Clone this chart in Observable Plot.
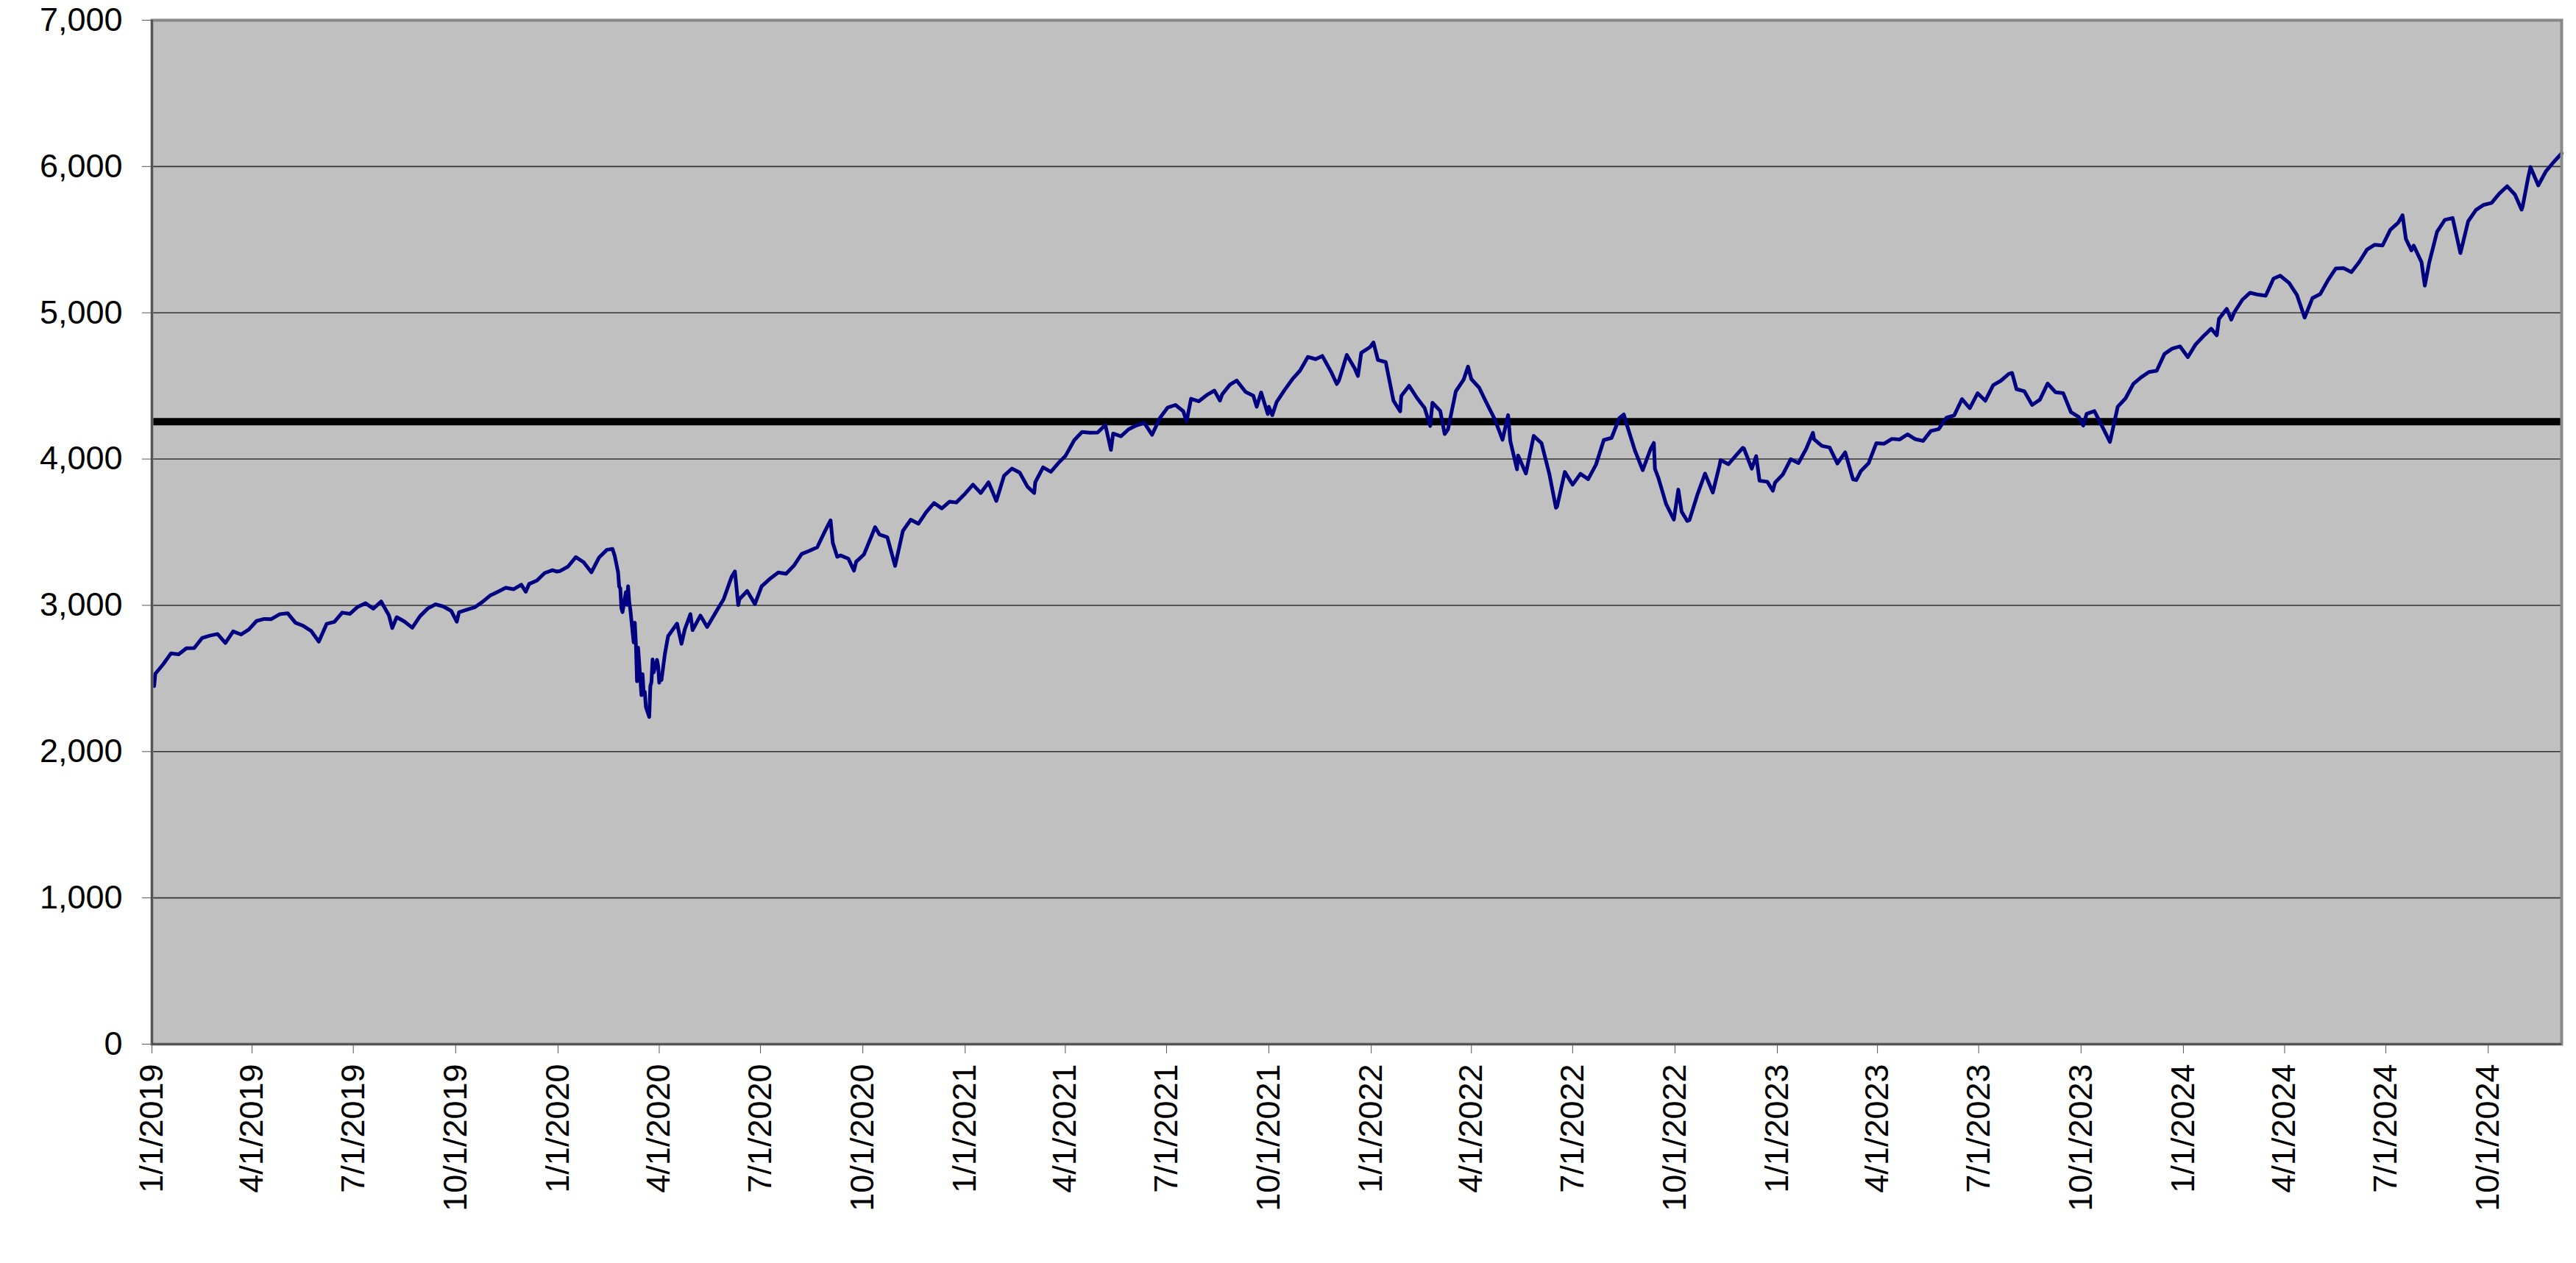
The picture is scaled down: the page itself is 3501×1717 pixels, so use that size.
<!DOCTYPE html>
<html>
<head>
<meta charset="utf-8">
<script src="https://cdn.jsdelivr.net/npm/d3@7"></script>
<script src="https://cdn.jsdelivr.net/npm/@observablehq/plot@0.6"></script>
<style>
  html, body { margin: 0; padding: 0; background: #fff; }
  #chart svg { display: block; }
</style>
</head>
<body>
<div id="chart"></div>
<script>
// S&P 500 closes (date, value)
const y2019 = [
  ["2019-01-02",2510],["2019-01-03",2448],["2019-01-04",2532],["2019-01-11",2596],["2019-01-18",2671],
  ["2019-01-25",2665],["2019-02-01",2707],["2019-02-08",2708],["2019-02-15",2776],["2019-02-22",2793],
  ["2019-03-01",2804],["2019-03-08",2743],["2019-03-15",2822],["2019-03-22",2801],["2019-03-29",2834],
  ["2019-04-05",2893],["2019-04-12",2907],["2019-04-18",2905],["2019-04-26",2940],["2019-05-03",2946],
  ["2019-05-10",2881],["2019-05-17",2860],["2019-05-24",2826],["2019-05-31",2752],["2019-06-07",2873],
  ["2019-06-14",2887],["2019-06-21",2950],["2019-06-28",2942],["2019-07-05",2990],["2019-07-12",3014],
  ["2019-07-19",2977],["2019-07-26",3026],["2019-08-02",2932],["2019-08-05",2845],["2019-08-09",2919],
  ["2019-08-16",2889],["2019-08-23",2847],["2019-08-30",2926],["2019-09-06",2979],["2019-09-13",3007],
  ["2019-09-20",2992],["2019-09-27",2962],["2019-10-02",2888],["2019-10-04",2952],["2019-10-11",2970],
  ["2019-10-18",2986],["2019-10-25",3023],["2019-11-01",3067],["2019-11-08",3093],["2019-11-15",3120],
  ["2019-11-22",3110],["2019-11-29",3141],["2019-12-03",3093],["2019-12-06",3146],["2019-12-13",3169],
  ["2019-12-20",3221],["2019-12-27",3240],["2019-12-31",3231]
];
const y2020 = [
  ["2020-01-03",3235],["2020-01-10",3265],["2020-01-17",3330],["2020-01-24",3295],["2020-01-31",3226],
  ["2020-02-07",3328],["2020-02-14",3380],["2020-02-19",3386],["2020-02-21",3338],["2020-02-24",3226],
  ["2020-02-25",3128],["2020-02-26",3116],["2020-02-27",2979],["2020-02-28",2954],["2020-03-02",3090],
  ["2020-03-03",3003],["2020-03-04",3130],["2020-03-05",3024],["2020-03-06",2972],["2020-03-09",2747],
  ["2020-03-10",2882],["2020-03-11",2741],["2020-03-12",2481],["2020-03-13",2711],["2020-03-16",2386],
  ["2020-03-17",2529],["2020-03-18",2398],["2020-03-19",2409],["2020-03-20",2305],["2020-03-23",2237],
  ["2020-03-24",2447],["2020-03-25",2476],["2020-03-26",2630],["2020-03-27",2541],["2020-03-30",2627],
  ["2020-03-31",2585],["2020-04-01",2471],["2020-04-02",2527],["2020-04-03",2489],["2020-04-06",2664],
  ["2020-04-08",2750],["2020-04-09",2790],["2020-04-17",2875],["2020-04-21",2737],["2020-04-24",2837],
  ["2020-04-29",2940],["2020-05-01",2831],["2020-05-08",2930],["2020-05-14",2852],["2020-05-15",2864],
  ["2020-05-22",2955],["2020-05-29",3044],["2020-06-05",3194],["2020-06-08",3232],["2020-06-11",3002],
  ["2020-06-12",3041],["2020-06-19",3098],["2020-06-26",3009],["2020-07-02",3130],["2020-07-10",3185],
  ["2020-07-17",3225],["2020-07-24",3216],["2020-07-31",3271],["2020-08-07",3351],["2020-08-14",3373],
  ["2020-08-21",3397],["2020-08-28",3508],["2020-09-02",3581],["2020-09-04",3427],["2020-09-08",3332],
  ["2020-09-11",3341],["2020-09-18",3319],["2020-09-23",3237],["2020-09-25",3298],["2020-10-02",3348],
  ["2020-10-09",3477],["2020-10-12",3535],["2020-10-16",3484],["2020-10-23",3465],["2020-10-30",3270],
  ["2020-11-06",3509],["2020-11-13",3585],["2020-11-20",3558],["2020-11-27",3638],["2020-12-04",3699],
  ["2020-12-11",3663],["2020-12-18",3709],["2020-12-24",3703],["2020-12-31",3756]
];
const y2021 = [
  ["2021-01-08",3825],["2021-01-15",3768],["2021-01-22",3841],["2021-01-29",3714],["2021-02-05",3887],
  ["2021-02-12",3935],["2021-02-19",3907],["2021-02-26",3811],["2021-03-04",3768],["2021-03-05",3842],
  ["2021-03-12",3943],["2021-03-19",3913],["2021-03-26",3975],["2021-04-01",4020],["2021-04-09",4129],
  ["2021-04-16",4185],["2021-04-23",4180],["2021-04-30",4181],["2021-05-07",4233],["2021-05-12",4063],
  ["2021-05-14",4174],["2021-05-21",4156],["2021-05-28",4204],["2021-06-04",4230],["2021-06-11",4247],
  ["2021-06-18",4166],["2021-06-25",4281],["2021-07-02",4352],["2021-07-09",4370],["2021-07-16",4327],
  ["2021-07-19",4258],["2021-07-23",4412],["2021-07-30",4395],["2021-08-06",4437],["2021-08-13",4468],
  ["2021-08-18",4400],["2021-08-20",4442],["2021-08-27",4509],["2021-09-02",4537],["2021-09-10",4459],
  ["2021-09-17",4433],["2021-09-20",4358],["2021-09-24",4455],["2021-09-30",4308],["2021-10-01",4357],
  ["2021-10-04",4300],["2021-10-08",4391],["2021-10-15",4471],["2021-10-22",4545],["2021-10-29",4605],
  ["2021-11-05",4698],["2021-11-12",4683],["2021-11-18",4705],["2021-11-26",4595],["2021-12-01",4513],
  ["2021-12-03",4538],["2021-12-10",4712],["2021-12-17",4621],["2021-12-20",4568],["2021-12-23",4726],
  ["2021-12-31",4766]
];
const y2022 = [
  ["2022-01-03",4797],["2022-01-07",4677],["2022-01-14",4663],["2022-01-21",4398],["2022-01-27",4327],
  ["2022-01-28",4432],["2022-02-04",4501],["2022-02-11",4419],["2022-02-18",4349],["2022-02-23",4226],
  ["2022-02-25",4385],["2022-03-04",4329],["2022-03-08",4171],["2022-03-11",4204],["2022-03-18",4463],
  ["2022-03-25",4543],["2022-03-29",4632],["2022-04-01",4546],["2022-04-08",4488],["2022-04-14",4393],
  ["2022-04-22",4272],["2022-04-29",4132],["2022-05-04",4300],["2022-05-06",4123],["2022-05-12",3930],
  ["2022-05-13",4024],["2022-05-20",3901],["2022-05-27",4158],["2022-06-03",4109],["2022-06-10",3901],
  ["2022-06-16",3667],["2022-06-17",3675],["2022-06-24",3912],["2022-07-01",3825],["2022-07-08",3899],
  ["2022-07-15",3863],["2022-07-22",3962],["2022-07-29",4130],["2022-08-05",4145],["2022-08-12",4280],
  ["2022-08-16",4305],["2022-08-19",4228],["2022-08-26",4058],["2022-09-02",3924],["2022-09-09",4067],
  ["2022-09-12",4110],["2022-09-13",3933],["2022-09-16",3873],["2022-09-23",3693],["2022-09-30",3586],
  ["2022-10-04",3791],["2022-10-07",3640],["2022-10-12",3577],["2022-10-14",3583],["2022-10-21",3753],
  ["2022-10-28",3901],["2022-11-04",3771],["2022-11-10",3956],["2022-11-11",3993],["2022-11-18",3965],
  ["2022-11-25",4026],["2022-12-01",4077],["2022-12-02",4072],["2022-12-09",3934],["2022-12-13",4020],
  ["2022-12-16",3852],["2022-12-23",3845],["2022-12-28",3783],["2022-12-30",3840]
];
const y2023 = [
  ["2023-01-06",3895],["2023-01-13",3999],["2023-01-20",3973],["2023-01-27",4071],["2023-02-02",4180],
  ["2023-02-03",4136],["2023-02-10",4090],["2023-02-17",4079],["2023-02-24",3970],["2023-03-03",4046],
  ["2023-03-10",3862],["2023-03-13",3856],["2023-03-17",3917],["2023-03-24",3971],["2023-03-31",4109],
  ["2023-04-07",4105],["2023-04-14",4138],["2023-04-21",4134],["2023-04-28",4169],["2023-05-05",4136],
  ["2023-05-12",4124],["2023-05-19",4192],["2023-05-26",4205],["2023-06-02",4282],["2023-06-09",4299],
  ["2023-06-16",4410],["2023-06-23",4348],["2023-06-30",4450],["2023-07-07",4399],["2023-07-14",4505],
  ["2023-07-21",4536],["2023-07-28",4582],["2023-07-31",4589],["2023-08-04",4478],["2023-08-11",4464],
  ["2023-08-18",4370],["2023-08-25",4406],["2023-09-01",4516],["2023-09-08",4457],["2023-09-15",4450],
  ["2023-09-22",4320],["2023-09-29",4288],["2023-10-03",4229],["2023-10-06",4309],["2023-10-13",4328],
  ["2023-10-20",4224],["2023-10-27",4117],["2023-11-03",4358],["2023-11-10",4415],["2023-11-17",4514],
  ["2023-11-24",4559],["2023-12-01",4595],["2023-12-08",4604],["2023-12-15",4719],["2023-12-22",4755],
  ["2023-12-29",4770]
];
const y2024 = [
  ["2024-01-05",4697],["2024-01-12",4784],["2024-01-19",4840],["2024-01-26",4891],["2024-01-31",4846],
  ["2024-02-02",4959],["2024-02-09",5027],["2024-02-13",4953],["2024-02-16",5006],["2024-02-23",5089],
  ["2024-03-01",5137],["2024-03-08",5124],["2024-03-15",5117],["2024-03-22",5234],["2024-03-28",5254],
  ["2024-04-05",5204],["2024-04-12",5123],["2024-04-19",4967],["2024-04-26",5100],["2024-05-03",5128],
  ["2024-05-10",5223],["2024-05-17",5303],["2024-05-24",5305],["2024-05-31",5278],["2024-06-07",5347],
  ["2024-06-14",5432],["2024-06-21",5465],["2024-06-28",5460],["2024-07-05",5567],["2024-07-12",5615],
  ["2024-07-16",5667],["2024-07-19",5505],["2024-07-24",5427],["2024-07-26",5459],["2024-08-02",5347],
  ["2024-08-05",5186],["2024-08-09",5344],["2024-08-16",5554],["2024-08-23",5635],["2024-08-30",5648],
  ["2024-09-06",5408],["2024-09-13",5626],["2024-09-20",5703],["2024-09-27",5738],["2024-10-04",5751],
  ["2024-10-11",5815],["2024-10-18",5865],["2024-10-25",5808],["2024-10-31",5705],["2024-11-01",5729],
  ["2024-11-06",5929],["2024-11-08",5996],["2024-11-15",5871],["2024-11-22",5969],["2024-11-29",6032],
  ["2024-12-06",6090]
];

// Reference level (thick black horizontal line)
const referenceLevel = [4255];

// Axis ticks
const yTicks = [0, 1000, 2000, 3000, 4000, 5000, 6000, 7000];
const xTickLabels = [
  "1/1/2019","4/1/2019","7/1/2019","10/1/2019",
  "1/1/2020","4/1/2020","7/1/2020","10/1/2020",
  "1/1/2021","4/1/2021","7/1/2021","10/1/2021",
  "1/1/2022","4/1/2022","7/1/2022","10/1/2022",
  "1/1/2023","4/1/2023","7/1/2023","10/1/2023",
  "1/1/2024","4/1/2024","7/1/2024","10/1/2024"
];
const xDomain = ["2019-01-01", "2024-12-06"];

// Build table
const series = [...y2019, ...y2020, ...y2021, ...y2022, ...y2023, ...y2024]
  .map(([d, v]) => ({date: new Date(d + "T00:00:00Z"), value: v}));

const parseMDY = s => { const [m, d, y] = s.split("/").map(Number); return new Date(Date.UTC(y, m - 1, d)); };
const xTicks = xTickLabels.map(parseMDY);
const labelByTime = new Map(xTicks.map((t, i) => [+t, xTickLabels[i]]));

const chart = Plot.plot({
  width: 3501,
  height: 1717,
  marginTop: 27,
  marginLeft: 206,
  marginRight: 20,
  marginBottom: 298,
  style: {
    fontFamily: "'Liberation Sans', Arial, sans-serif",
    fontSize: "45px",
    color: "#000",
    background: "#fff",
    overflow: "visible"
  },
  x: {type: "utc", domain: xDomain.map(d => new Date(d + "T00:00:00Z"))},
  y: {domain: [0, 7000]},
  marks: [
    Plot.frame({fill: "#c0c0c0", stroke: null}),
    Plot.gridY(yTicks.slice(1, -1), {stroke: "#333", strokeOpacity: 1, strokeWidth: 1.6}),
    Plot.ruleY(referenceLevel, {stroke: "#000", strokeWidth: 10}),
    Plot.line(series, {x: "date", y: "value", stroke: "#000080", strokeWidth: 5, strokeLinejoin: "round"}),
    Plot.frame({stroke: "#888", strokeWidth: 4}),
    Plot.ruleX([xTicks[0]], {stroke: "#404040", strokeWidth: 2}),
    Plot.ruleY([0], {stroke: "#404040", strokeWidth: 2}),
    Plot.axisY(yTicks, {
      tickFormat: d3.format(","),
      tickSize: 13,
      tickPadding: 27,
      stroke: "#555",
      fontSize: 45,
      label: null
    }),
    Plot.axisX(xTicks, {
      tickFormat: d => labelByTime.get(+d),
      tickRotate: -90,
      tickSize: 13,
      tickPadding: 14,
      stroke: "#555",
      fontSize: 45,
      label: null
    })
  ]
});
document.getElementById("chart").appendChild(chart);
</script>
</body>
</html>
